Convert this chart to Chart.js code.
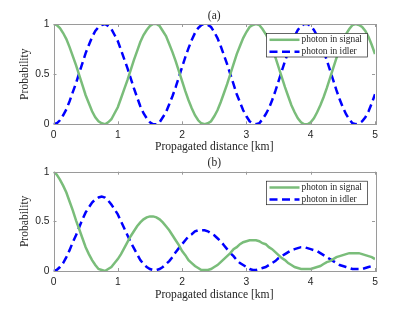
<!DOCTYPE html>
<html>
<head>
<meta charset="utf-8">
<script src="https://cdn.jsdelivr.net/npm/chart.js@4.4.1/dist/chart.umd.min.js"></script>
<style>
  html, body { margin: 0; padding: 0; background: #fff; }
  .panel { position: absolute; left: 0; width: 415px; height: 155px; }
  #panelA { top: 0; }
  #panelB { top: 155px; }
</style>
</head>
<body>
<div class="panel" id="panelA"><canvas id="chartA" width="415" height="155"></canvas></div>
<div class="panel" id="panelB"><canvas id="chartB" width="415" height="155"></canvas></div>
<script>
// propagated distance [km]
const distance = [
  0, 0.05, 0.1, 0.15, 0.2, 0.25, 0.3, 0.35, 0.4, 0.45,
  0.5, 0.55, 0.6, 0.65, 0.7, 0.75, 0.8, 0.85, 0.9, 0.95,
  1, 1.05, 1.1, 1.15, 1.2, 1.25, 1.3, 1.35, 1.4, 1.45,
  1.5, 1.55, 1.6, 1.65, 1.7, 1.75, 1.8, 1.85, 1.9, 1.95,
  2, 2.05, 2.1, 2.15, 2.2, 2.25, 2.3, 2.35, 2.4, 2.45,
  2.5, 2.55, 2.6, 2.65, 2.7, 2.75, 2.8, 2.85, 2.9, 2.95,
  3, 3.05, 3.1, 3.15, 3.2, 3.25, 3.3, 3.35, 3.4, 3.45,
  3.5, 3.55, 3.6, 3.65, 3.7, 3.75, 3.8, 3.85, 3.9, 3.95,
  4, 4.05, 4.1, 4.15, 4.2, 4.25, 4.3, 4.35, 4.4, 4.45,
  4.5, 4.55, 4.6, 4.65, 4.7, 4.75, 4.8, 4.85, 4.9, 4.95,
  5
];

// (a) lossless
const signalA = [
  1.00, 0.99, 0.96, 0.91, 0.85, 0.77, 0.68, 0.59, 0.49, 0.39,
  0.29, 0.21, 0.13, 0.07, 0.03, 0.01, 0.00, 0.02, 0.05, 0.11,
  0.17, 0.26, 0.35, 0.44, 0.54, 0.64, 0.73, 0.82, 0.89, 0.94,
  0.98, 1.00, 1.00, 0.98, 0.93, 0.88, 0.80, 0.72, 0.63, 0.53,
  0.43, 0.33, 0.24, 0.16, 0.09, 0.04, 0.01, 0.00, 0.01, 0.03,
  0.08, 0.14, 0.22, 0.31, 0.40, 0.50, 0.60, 0.70, 0.78, 0.86,
  0.92, 0.97, 0.99, 1.00, 0.99, 0.95, 0.90, 0.84, 0.76, 0.67,
  0.57, 0.47, 0.37, 0.28, 0.19, 0.12, 0.06, 0.02, 0.00, 0.00,
  0.02, 0.06, 0.12, 0.19, 0.27, 0.36, 0.46, 0.56, 0.66, 0.75,
  0.83, 0.90, 0.95, 0.99, 1.00, 0.99, 0.97, 0.93, 0.87, 0.79,
  0.70
];
const idlerA = [
  0.00, 0.01, 0.04, 0.09, 0.15, 0.23, 0.32, 0.41, 0.51, 0.61,
  0.71, 0.79, 0.87, 0.93, 0.97, 0.99, 1.00, 0.98, 0.95, 0.89,
  0.83, 0.74, 0.65, 0.56, 0.46, 0.36, 0.27, 0.18, 0.11, 0.06,
  0.02, 0.00, 0.00, 0.02, 0.07, 0.12, 0.20, 0.28, 0.37, 0.47,
  0.57, 0.67, 0.76, 0.84, 0.91, 0.96, 0.99, 1.00, 0.99, 0.97,
  0.92, 0.86, 0.78, 0.69, 0.60, 0.50, 0.40, 0.30, 0.22, 0.14,
  0.08, 0.03, 0.01, 0.00, 0.01, 0.05, 0.10, 0.16, 0.24, 0.33,
  0.43, 0.53, 0.63, 0.72, 0.81, 0.88, 0.94, 0.98, 1.00, 1.00,
  0.98, 0.94, 0.88, 0.81, 0.73, 0.64, 0.54, 0.44, 0.34, 0.25,
  0.17, 0.10, 0.05, 0.01, 0.00, 0.01, 0.03, 0.07, 0.13, 0.21,
  0.30
];

// (b) with loss
const signalB = [
  1.00, 0.97, 0.92, 0.86, 0.79, 0.70, 0.61, 0.51, 0.42, 0.33,
  0.24, 0.17, 0.11, 0.06, 0.02, 0.01, 0.00, 0.02, 0.04, 0.08,
  0.12, 0.17, 0.23, 0.29, 0.35, 0.40, 0.45, 0.49, 0.52, 0.54,
  0.55, 0.55, 0.54, 0.52, 0.49, 0.45, 0.41, 0.36, 0.31, 0.26,
  0.20, 0.16, 0.11, 0.08, 0.05, 0.03, 0.01, 0.01, 0.01, 0.02,
  0.04, 0.06, 0.09, 0.12, 0.15, 0.18, 0.22, 0.24, 0.27, 0.29,
  0.30, 0.31, 0.31, 0.31, 0.30, 0.28, 0.27, 0.24, 0.22, 0.19,
  0.16, 0.13, 0.11, 0.08, 0.06, 0.04, 0.03, 0.02, 0.02, 0.02,
  0.02, 0.03, 0.04, 0.05, 0.07, 0.09, 0.10, 0.12, 0.14, 0.15,
  0.16, 0.17, 0.18, 0.18, 0.18, 0.18, 0.17, 0.16, 0.15, 0.14,
  0.12
];
const idlerB = [
  0.00, 0.01, 0.04, 0.08, 0.14, 0.21, 0.29, 0.36, 0.44, 0.52,
  0.59, 0.64, 0.69, 0.72, 0.74, 0.75, 0.74, 0.71, 0.67, 0.62,
  0.57, 0.50, 0.43, 0.36, 0.29, 0.23, 0.17, 0.11, 0.07, 0.04,
  0.02, 0.01, 0.01, 0.02, 0.04, 0.07, 0.10, 0.14, 0.19, 0.23,
  0.27, 0.31, 0.35, 0.37, 0.40, 0.41, 0.41, 0.41, 0.40, 0.38,
  0.36, 0.33, 0.30, 0.26, 0.22, 0.18, 0.15, 0.11, 0.08, 0.06,
  0.04, 0.02, 0.01, 0.01, 0.02, 0.03, 0.04, 0.06, 0.08, 0.10,
  0.13, 0.15, 0.17, 0.19, 0.21, 0.22, 0.23, 0.24, 0.24, 0.23,
  0.22, 0.21, 0.20, 0.18, 0.16, 0.14, 0.12, 0.10, 0.08, 0.06,
  0.05, 0.04, 0.03, 0.02, 0.02, 0.02, 0.02, 0.03, 0.04, 0.05,
  0.06
];

const xTicks = [0, 1, 2, 3, 4, 5];
const yTicks = [0, 0.5, 1];
const seriesNames = ['photon in signal', 'photon in idler'];

const SERIF = "'Liberation Serif', 'Times New Roman', serif";
const SANS = "'Liberation Sans', Arial, sans-serif";
const TEXT = '#262626';
const AXIS = '#9a9a9a';
const GREEN = '#7abd7a';
const BLUE = '#0000ff';

function points(ys) {
  return distance.map((x, i) => ({ x: x, y: ys[i] }));
}

// box round the axes with ticks pointing inwards, like the original figure
const framePlugin = {
  id: 'frame',
  afterDatasetsDraw(chart) {
    const { ctx, chartArea: a, scales } = chart;
    ctx.save();
    ctx.strokeStyle = AXIS;
    ctx.lineWidth = 1;
    ctx.beginPath();
    xTicks.forEach(v => {
      const px = Math.round(scales.x.getPixelForValue(v)) + 0.5;
      ctx.moveTo(px, a.bottom); ctx.lineTo(px, a.bottom - 3);
      ctx.moveTo(px, a.top); ctx.lineTo(px, a.top + 3);
    });
    yTicks.forEach(v => {
      const py = Math.round(scales.y.getPixelForValue(v)) + 0.5;
      ctx.moveTo(a.left, py); ctx.lineTo(a.left + 3, py);
      ctx.moveTo(a.right, py); ctx.lineTo(a.right - 3, py);
    });
    ctx.stroke();
    ctx.strokeRect(Math.round(a.left) + 0.5, Math.round(a.top) + 0.5,
      Math.round(a.right - a.left), Math.round(a.bottom - a.top));
    ctx.restore();
  }
};

// legend drawn inside the axes, top right
const boxLegendPlugin = {
  id: 'boxLegend',
  afterDraw(chart) {
    const { ctx, chartArea: a } = chart;
    const left = a.right - 108.5, top = a.top + 9.5, w = 101, h = 23.5;
    ctx.save();
    ctx.fillStyle = '#fff';
    ctx.fillRect(left, top, w, h);
    ctx.strokeStyle = '#262626';
    ctx.lineWidth = 0.7;
    ctx.strokeRect(left, top, w, h);
    chart.data.datasets.forEach((ds, i) => {
      const y = top + 6.3 + i * 12;
      ctx.strokeStyle = ds.borderColor;
      ctx.lineWidth = ds.borderWidth;
      ctx.setLineDash(ds.borderDash || []);
      ctx.beginPath();
      ctx.moveTo(left + 3, y);
      ctx.lineTo(left + 33, y);
      ctx.stroke();
      ctx.setLineDash([]);
      ctx.fillStyle = TEXT;
      ctx.font = '9.4px ' + SERIF;
      ctx.textBaseline = 'middle';
      ctx.fillText(ds.label, left + 35, y);
    });
    ctx.restore();
  }
};

function makeChart(id, title, signal, idler, geo) {
  return new Chart(document.getElementById(id), {
    type: 'line',
    data: {
      datasets: [
        {
          label: seriesNames[0],
          data: points(signal),
          borderColor: GREEN,
          borderWidth: 2.5,
          pointRadius: 0,
          tension: 0
        },
        {
          label: seriesNames[1],
          data: points(idler),
          borderColor: BLUE,
          borderWidth: 2.5,
          borderDash: [8, 4.5],
          pointRadius: 0,
          tension: 0
        }
      ]
    },
    options: {
      responsive: false,
      animation: false,
      layout: { padding: { left: 0, right: 40, top: 0, bottom: 0 } },
      plugins: {
        legend: { display: false },
        tooltip: { enabled: false },
        title: {
          display: true,
          text: title,
          fullSize: false,
          color: TEXT,
          font: { family: SERIF, size: 11.5, weight: 'normal' },
          padding: geo.titlePad
        }
      },
      scales: {
        x: {
          type: 'linear',
          min: 0,
          max: 5,
          afterFit: s => { s.height = geo.xHeight; },
          afterBuildTicks: s => { s.ticks = xTicks.map(v => ({ value: v })); },
          grid: { display: false, drawTicks: false },
          border: { display: false },
          ticks: {
            color: TEXT, padding: 4.5, maxRotation: 0,
            font: { family: SANS, size: 10.3 },
            callback: v => String(v)
          },
          title: {
            display: true,
            text: 'Propagated distance [km]',
            color: TEXT,
            font: { family: SERIF, size: 11.6 },
            padding: { top: 0, bottom: geo.xTitleBottom }
          }
        },
        y: {
          min: 0,
          max: 1,
          afterFit: s => { s.width = 53.5; },
          afterBuildTicks: s => { s.ticks = yTicks.map(v => ({ value: v })); },
          grid: { display: false, drawTicks: false },
          border: { display: false },
          ticks: {
            color: TEXT, padding: 4,
            font: { family: SANS, size: 10.3 },
            callback: v => String(v)
          },
          title: {
            display: true,
            text: 'Probability',
            color: TEXT,
            font: { family: SERIF, size: 11.6 },
            padding: { top: 17.5, bottom: 0 }
          }
        }
      }
    },
    plugins: [framePlugin, boxLegendPlugin]
  });
}

makeChart('chartA', '(a)', signalA, idlerA,
  { titlePad: { top: 8.8, bottom: 1.4 }, xHeight: 30.7, xTitleBottom: 0.8 });
makeChart('chartB', '(b)', signalB, idlerB,
  { titlePad: { top: 0.8, bottom: 2.1 }, xHeight: 39, xTitleBottom: 8 });
</script>
</body>
</html>
